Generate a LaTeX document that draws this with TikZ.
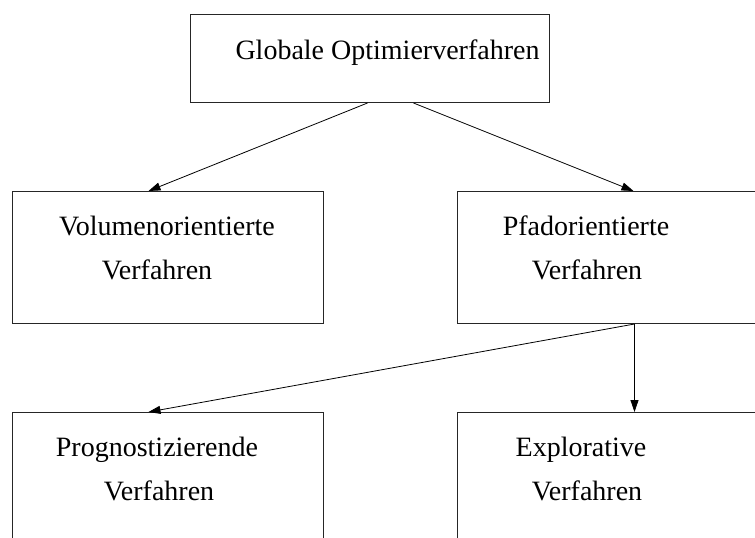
\documentclass[tikz,border=0pt]{standalone}
\usepackage{fontspec}
\setmainfont{Liberation Serif}
\usetikzlibrary{arrows.meta}
\begin{document}
\begin{tikzpicture}[x=1pt,y=-1pt,
  box/.style={draw=black!85,line width=1pt,inner sep=0pt,anchor=north west},
  lbl/.style={anchor=base,inner sep=0pt,font=\fontsize{28}{34}\selectfont},
  link/.style={line width=0.8pt,-{Triangle[length=12pt,width=8pt]}}]
\clip (0,0) rectangle (755,538);
\useasboundingbox (0,0) rectangle (755,538);
% boxes
\node[box,minimum width=359pt,minimum height=88pt] (glob) at (190,14) {};
\node[box,minimum width=311pt,minimum height=132pt] (vol) at (12,191) {};
\node[box,minimum width=311pt,minimum height=132pt] (pfad) at (457,191) {};
\node[box,minimum width=311pt,minimum height=132pt] (prog) at (12,412) {};
\node[box,minimum width=311pt,minimum height=132pt] (expl) at (457,412) {};
% labels
\node[lbl] (globT) at (387.5,59) {Globale Optimierverfahren};
\node[lbl] (volT1) at (167,235) {Volumenorientierte};
\node[lbl] (volT2) at (157,279) {Verfahren};
\node[lbl] (pfadT1) at (586,235) {Pfadorientierte};
\node[lbl] (pfadT2) at (587,279) {Verfahren};
\node[lbl] (progT1) at (157,456) {Prognostizierende};
\node[lbl] (progT2) at (159,500) {Verfahren};
\node[lbl] (explT1) at (581,456) {Explorative};
\node[lbl] (explT2) at (587,500) {Verfahren};
% connectors
\draw[link] ([xshift=-2.5pt]glob.south) -- ([xshift=-19.5pt]vol.north);
\draw[link] ([xshift=43.5pt]glob.south) -- ([xshift=20.5pt]pfad.north);
\draw[link] ([xshift=21.5pt]pfad.south) -- ([xshift=-19.5pt]prog.north);
\draw[link] ([xshift=21.5pt]pfad.south) -- ([xshift=21.5pt]expl.north);
\end{tikzpicture}
\end{document}
